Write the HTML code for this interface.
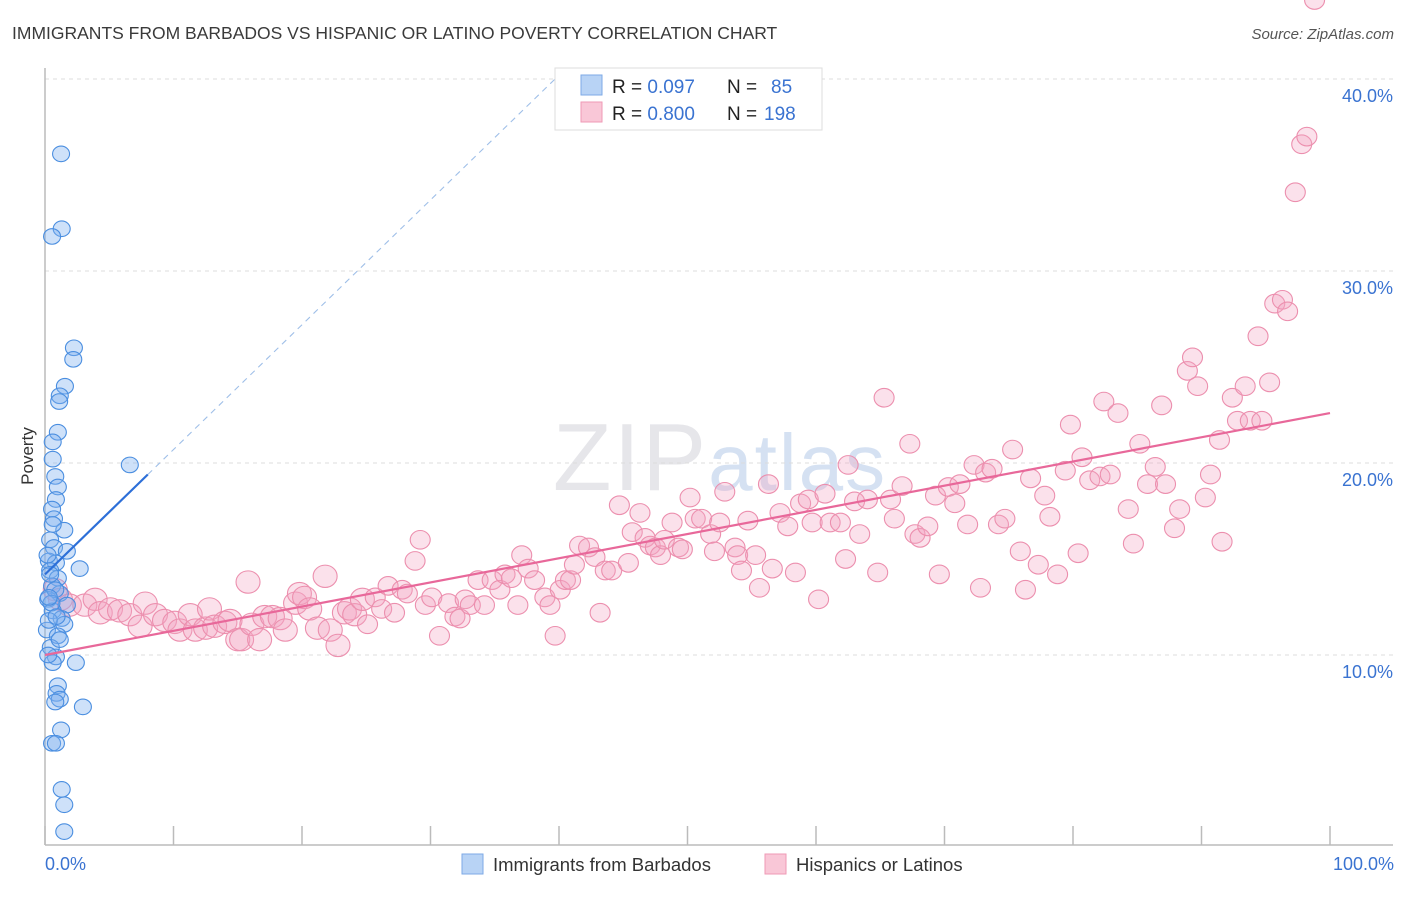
<!DOCTYPE html>
<html><head><meta charset="utf-8"><style>
body{margin:0;background:#fff;font-family:"Liberation Sans",sans-serif;}
svg text{font-family:"Liberation Sans",sans-serif;}
</style></head><body>
<svg id="chart" width="1406" height="892" viewBox="0 0 1406 892" xmlns="http://www.w3.org/2000/svg">
<text x="12" y="39" font-size="17.5" fill="#3a3a3a">IMMIGRANTS FROM BARBADOS VS HISPANIC OR LATINO POVERTY CORRELATION CHART</text>
<text x="1394" y="39" font-size="15" fill="#555" font-style="italic" text-anchor="end">Source: ZipAtlas.com</text>
<text x="720" y="490" font-size="96" fill="#e6e6ea" text-anchor="middle" font-family="Liberation Serif" letter-spacing="2">ZIP<tspan fill="#d5e1f2" font-family="Liberation Sans" font-size="80">atlas</tspan></text>
<g id="grid"></g>
<g id="axes"></g>
<g id="pts"></g>
<g id="trend"></g>
<text transform="translate(33,456) rotate(-90)" font-size="17" fill="#333" text-anchor="middle">Poverty</text>
<text x="45" y="870" font-size="18" fill="#3a73d1">0.0%</text>
<text x="1394" y="870" font-size="18" fill="#3a73d1" text-anchor="end">100.0%</text>
<g>
<rect x="555" y="68" width="267" height="62" fill="#fff" stroke="#ddd"/>
<rect x="581" y="75" width="21" height="20" fill="#b8d3f5" stroke="#7eaae6"/>
<rect x="581" y="102" width="21" height="20" fill="#f9c7d7" stroke="#ef9ab6"/>
<text x="612" y="93" font-size="19" fill="#222">R = <tspan fill="#3a73d1">0.097</tspan><tspan x="727">N = </tspan><tspan x="771" fill="#3a73d1">85</tspan></text>
<text x="612" y="120" font-size="19" fill="#222">R = <tspan fill="#3a73d1">0.800</tspan><tspan x="727">N = </tspan><tspan x="764" fill="#3a73d1">198</tspan></text>
</g>
<g>
<rect x="462" y="854" width="21" height="20" fill="#b8d3f5" stroke="#7eaae6"/>
<text x="493" y="871" font-size="18.5" fill="#333">Immigrants from Barbados</text>
</g>
<g>
<rect x="765" y="854" width="21" height="20" fill="#f9c7d7" stroke="#ef9ab6"/>
<text x="796" y="871" font-size="18.5" fill="#333">Hispanics or Latinos</text>
</g>
</svg>
<script>
const yTicks=[10,20,30,40];
const yTickLabels=["10.0%","20.0%","30.0%","40.0%"];
const xTicks=[0,10,20,30,40,50,60,70,80,90,100];
const blueX=[1.25,1.3,0.55,2.25,2.2,1.55,1.15,1.1,1.0,0.6,0.6,6.6,0.8,1.0,0.85,0.55,0.7,1.5,0.4,0.7,1.7,0.3,0.85,0.4,2.7,1.0,0.55,1.15,0.25,1.7,0.6,1.3,1.5,0.15,1.0,0.45,0.85,2.4,0.6,1.0,0.9,1.15,0.8,2.95,1.25,0.55,0.85,1.3,1.5,1.5,0.4,0.8,0.3,1.15,0.25,0.2,0.5,0.9,0.3,0.6];
const blueY=[36.1,32.2,31.8,26.0,25.4,24.0,23.5,23.2,21.6,21.1,20.2,19.9,19.3,18.75,18.1,17.6,17.1,16.5,16.0,15.6,15.4,14.9,14.8,14.4,14.5,14.0,13.6,13.2,12.9,12.6,12.3,11.9,11.6,11.3,11.0,10.4,9.9,9.6,9.6,8.4,8.0,7.7,7.55,7.3,6.1,5.4,5.4,3.0,2.2,0.8,14.2,13.4,11.8,10.8,10.0,15.2,12.7,12.0,13.0,16.8];
const pinkX=[0.8,1.2,1.9,3.1,3.9,4.3,5.1,5.8,6.6,7.4,7.8,8.6,9.3,10.1,10.5,11.3,11.7,12.5,12.8,13.2,14.0,14.4,15.0,15.3,15.8,16.1,16.7,17.1,17.7,18.3,18.7,19.5,19.8,20.2,20.6,21.2,21.8,22.2,22.8,23.3,23.7,24.1,24.7,25.1,25.7,26.2,26.7,27.2,27.8,28.2,28.8,29.2,29.6,30.1,30.7,31.4,31.9,32.3,32.7,33.1,33.7,34.2,34.8,35.4,35.8,36.3,36.8,37.1,37.6,38.1,38.9,39.3,39.7,40.1,40.5,40.9,41.2,41.6,42.3,42.8,43.2,43.6,44.1,44.7,45.4,45.7,46.3,46.7,47.1,47.5,47.9,48.2,48.8,49.3,49.6,50.2,50.6,51.1,51.8,52.1,52.5,52.9,53.7,53.9,54.2,54.7,55.3,55.6,56.3,56.6,57.2,57.8,58.4,58.8,59.4,59.7,60.2,60.7,61.1,61.9,62.3,62.5,63.0,63.4,64.0,64.8,65.3,65.8,66.1,66.7,67.3,67.7,68.1,68.7,69.3,69.6,70.3,70.8,71.2,71.8,72.3,72.8,73.2,73.7,74.2,74.7,75.3,75.9,76.3,76.7,77.3,77.8,78.2,78.8,79.4,79.8,80.4,80.7,81.3,82.1,82.4,82.9,83.5,84.3,84.7,85.2,85.8,86.4,86.9,87.2,87.9,88.3,88.9,89.3,89.7,90.3,90.7,91.4,91.6,92.4,92.8,93.4,93.8,94.4,94.7,95.3,95.7,96.3,96.7,97.3,97.8,98.2,98.8];
const pinkY=[13.4,12.9,12.6,12.6,12.9,12.2,12.4,12.3,12.1,11.5,12.7,12.1,11.8,11.7,11.3,12.1,11.3,11.4,12.4,11.5,11.7,11.8,10.8,10.8,13.8,11.6,10.8,12.0,12.0,11.9,11.3,12.7,13.2,13.0,12.4,11.4,14.1,11.3,10.5,12.2,12.4,12.1,12.9,11.6,13.0,12.4,13.6,12.2,13.4,13.2,14.9,16.0,12.6,13.0,11.0,12.7,12.0,11.9,12.9,12.6,13.9,12.6,13.9,13.4,14.2,14.0,12.6,15.2,14.5,13.9,13.0,12.6,11.0,13.4,13.9,13.9,14.7,15.7,15.6,15.1,12.2,14.4,14.4,17.8,14.8,16.4,17.4,16.1,15.7,15.6,15.2,16.0,16.9,15.6,15.5,18.2,17.1,17.1,16.3,15.4,16.9,18.5,15.6,15.2,14.4,17.0,15.2,13.5,18.9,14.5,17.4,16.7,14.3,17.9,18.1,16.9,12.9,18.4,16.9,16.9,15.0,19.9,18.0,16.3,18.1,14.3,23.4,18.1,17.1,18.8,21.0,16.3,16.1,16.7,18.3,14.2,18.75,17.9,18.9,16.8,19.9,13.5,19.5,19.7,16.8,17.1,20.7,15.4,13.4,19.2,14.7,18.3,17.2,14.2,19.6,22.0,15.3,20.3,19.1,19.3,23.2,19.4,22.6,17.6,15.8,21.0,18.9,19.8,23.0,18.9,16.6,17.6,24.8,25.5,24.0,18.2,19.4,21.2,15.9,23.4,22.2,24.0,22.2,26.6,22.2,24.2,28.3,28.5,27.9,34.1,36.6,37.0];
const trendPink=[10.0,22.6];
const trendBlue=[14.2,0.65];
const L=45,R=1330,B=847,T=79;
const X=v=>L+v*(R-L)/100, Y=v=>B-v*(B-T)/40;
const NS="http://www.w3.org/2000/svg";
function mk(tag,attrs,parent){const e=document.createElementNS(NS,tag);for(const k in attrs)e.setAttribute(k,attrs[k]);parent.appendChild(e);return e;}
const grid=document.getElementById('grid'),axes=document.getElementById('axes'),pts=document.getElementById('pts'),tr=document.getElementById('trend');
yTicks.forEach((t,i)=>{
 const ln=mk('line',{x1:L,x2:1393,y1:Y(t),y2:Y(t),stroke:'#dcdcdc','stroke-dasharray':'4,4'},grid);
 
 
 const tx=mk('text',{x:1393,y:Y(t)+23,'font-size':18,fill:'#3a73d1','text-anchor':'end'},grid);
 tx.textContent=yTickLabels[i];
 
 
});
const ya=mk('line',{x1:L,x2:L,y1:68,y2:845,stroke:'#bbb','stroke-width':1.5},axes);


const xa=mk('line',{x1:L,x2:1393,y1:845,y2:845,stroke:'#bbb','stroke-width':1.5},axes);


xTicks.forEach(t=>{
 const tk=mk('line',{x1:X(t),x2:X(t),y1:826,y2:845,stroke:'#bbb','stroke-width':1.5},axes);
 
 
});
pinkX.forEach((x,i)=>{
 const r=x<25?12:10;
 const c=mk('ellipse',{cx:X(x),cy:Y(pinkY[i]),rx:r,ry:r*0.93,fill:'rgba(244,165,195,0.33)',stroke:'#ec8fae','stroke-width':1.1},pts);
 
 
});
blueX.forEach((x,i)=>{
 const c=mk('ellipse',{cx:X(x),cy:Y(blueY[i]),rx:8.5,ry:7.8,fill:'rgba(125,175,238,0.38)',stroke:'#4a8ee0','stroke-width':1.1},pts);
 
 
});
const pl=mk('line',{x1:X(0),y1:Y(trendPink[0]),x2:X(100),y2:Y(trendPink[1]),stroke:'#e8689a','stroke-width':2.2},tr);


const bl=mk('line',{x1:X(0),y1:Y(trendBlue[0]),x2:X(8),y2:Y(trendBlue[0]+8*trendBlue[1]),stroke:'#2d6fd8','stroke-width':2.2},tr);


const bd=mk('line',{x1:X(8),y1:Y(trendBlue[0]+8*trendBlue[1]),x2:X(39.7),y2:Y(trendBlue[0]+39.7*trendBlue[1]),stroke:'#9fbfe8','stroke-width':1.1,'stroke-dasharray':'6,5'},tr);


</script>
</body></html>
